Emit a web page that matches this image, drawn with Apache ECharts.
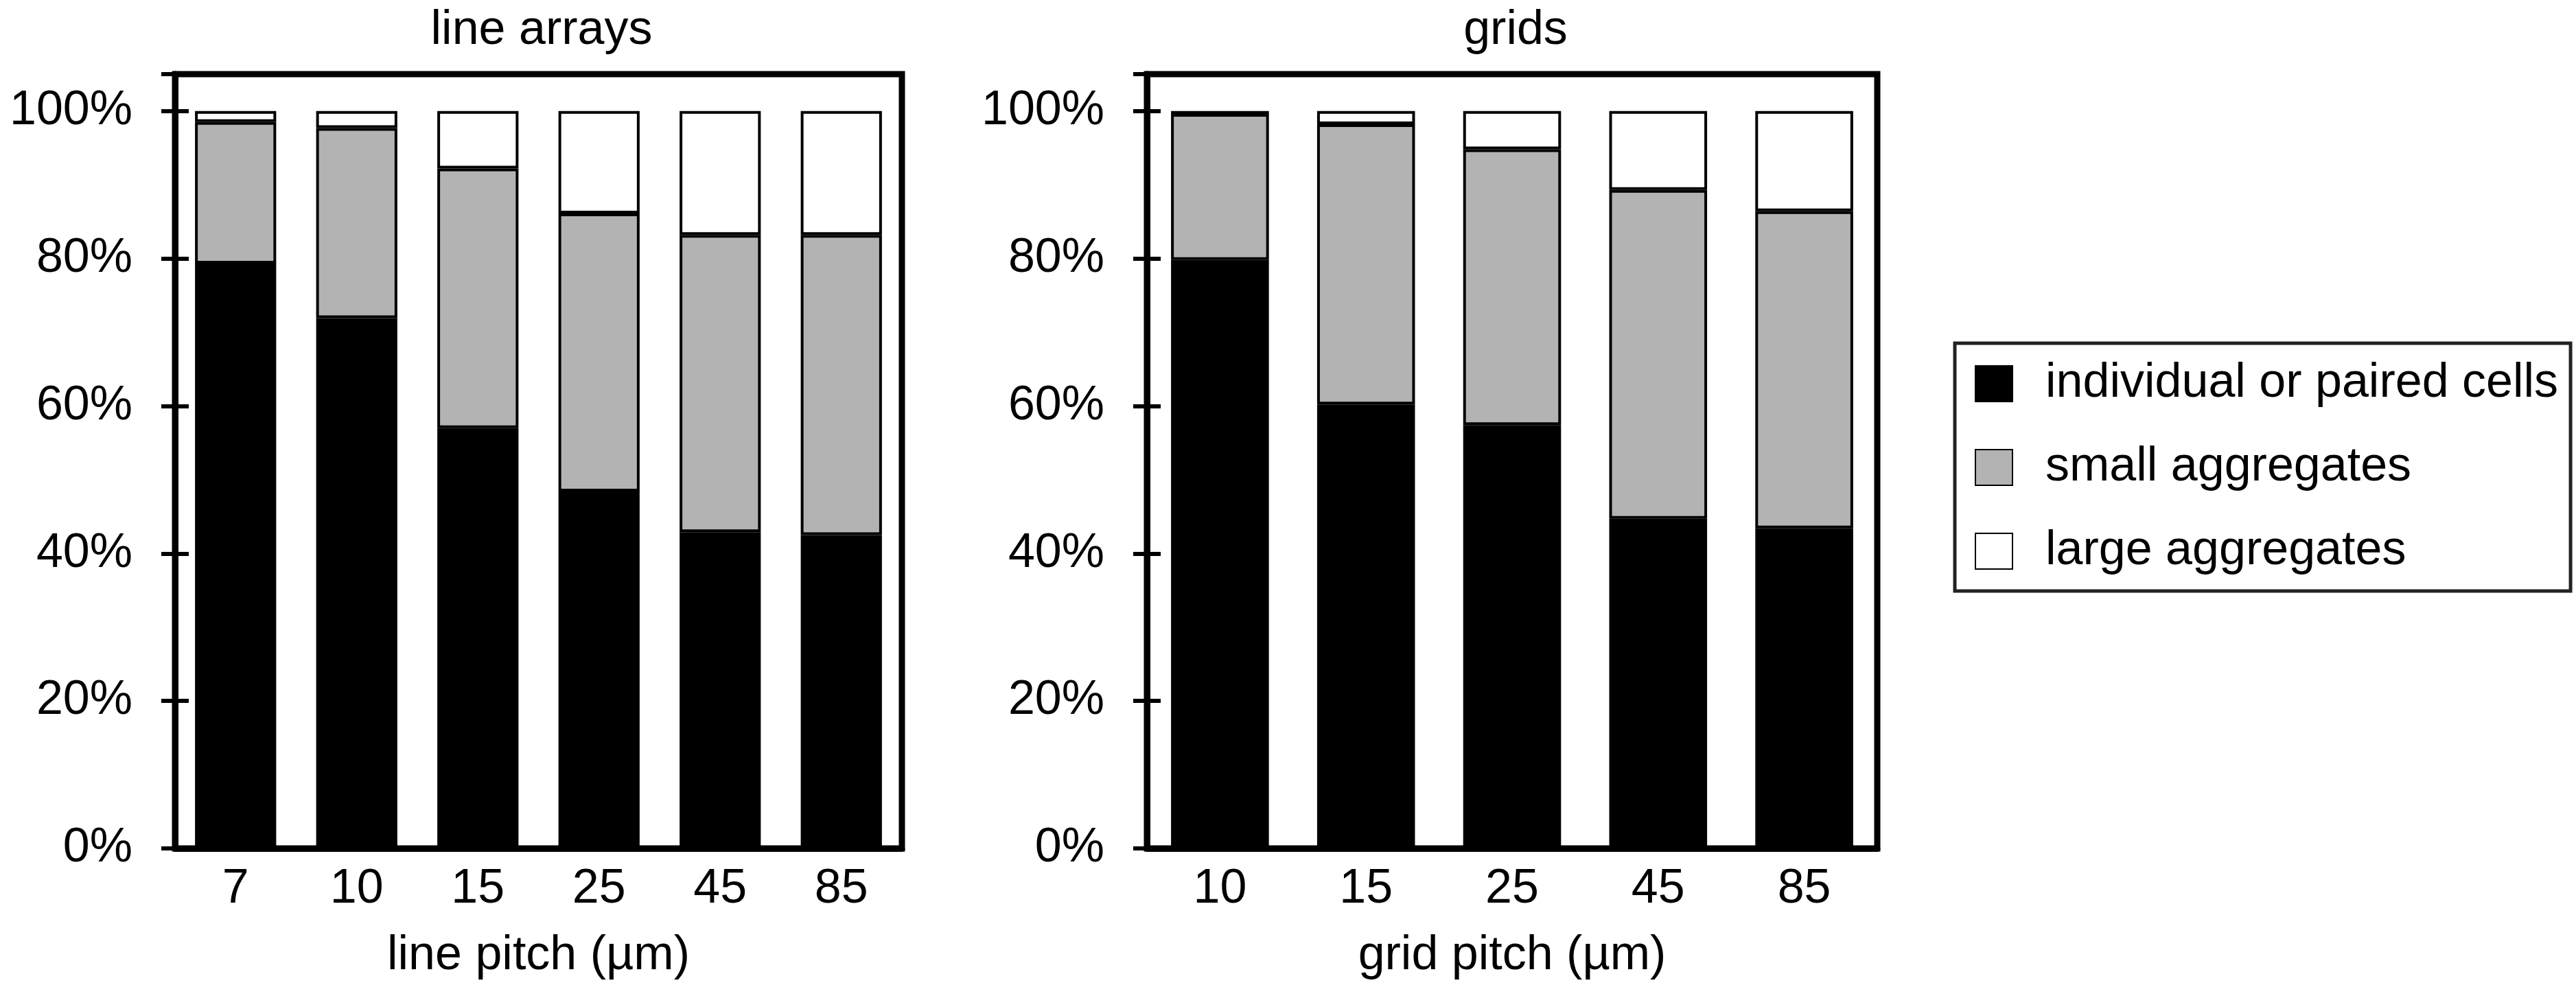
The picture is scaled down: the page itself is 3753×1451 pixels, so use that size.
<!DOCTYPE html>
<html>
<head>
<meta charset="utf-8">
<script src="https://cdn.jsdelivr.net/npm/echarts@6/dist/echarts.min.js"></script>
<style>
html,body{margin:0;padding:0;background:#fff;}
#chart{width:3753px;height:1451px;}
</style>
</head>
<body>
<div id="chart"></div>
<script>
// ---- data ----
var lineCategories = ['7', '10', '15', '25', '45', '85'];
var lineIndividual = [79.3, 71.9, 57.0, 48.4, 42.9, 42.5];
var lineSmall      = [19.2, 25.8, 35.2, 37.7, 40.3, 40.7];
var lineLarge      = [1.5, 2.3, 7.8, 13.9, 16.8, 16.8];

var gridCategories = ['10', '15', '25', '45', '85'];
var gridIndividual = [79.8, 60.2, 57.4, 44.7, 43.4];
var gridSmall      = [19.8, 38.0, 37.4, 44.6, 43.0];
var gridLarge      = [0.4, 1.8, 5.2, 10.7, 13.6];

var yTicks = [0, 20, 40, 60, 80, 100];
var seriesNames = ['individual or paired cells', 'small aggregates', 'large aggregates'];
var titles = ['line arrays', 'grids'];
var xNames = ['line pitch (\u00b5m)', 'grid pitch (\u00b5m)'];

// ---- chart ----
var FONT = '"Liberation Sans", Arial, sans-serif';
var FS = 70;
var colors = ['#000000', '#b3b3b3', '#ffffff'];
var chart = echarts.init(document.getElementById('chart'));

function yMain(gi) {
  return {
    type: 'value', gridIndex: gi, min: 0, max: 105, interval: 20, position: 'left',
    axisLine: {show: true, lineStyle: {color: '#000', width: 9}},
    axisTick: {show: true, length: 20, lineStyle: {color: '#000', width: 6}},
    axisLabel: {
      color: '#000', fontSize: FS, fontFamily: FONT, margin: 62,
      formatter: function (v) { return yTicks.indexOf(v) >= 0 ? v + '%' : ''; }
    },
    splitLine: {show: false}
  };
}
function yInner(gi) {
  return {
    type: 'value', gridIndex: gi, min: 0, max: 105, interval: 20, position: 'left',
    axisLine: {show: false},
    axisTick: {show: true, inside: true, length: 20, lineStyle: {color: '#000', width: 6}},
    axisLabel: {show: false},
    splitLine: {show: false}
  };
}
function xAxis(gi, cats, name) {
  return {
    type: 'category', gridIndex: gi, data: cats,
    name: name, nameLocation: 'middle', nameGap: 122,
    nameTextStyle: {color: '#000', fontSize: FS, fontFamily: FONT},
    axisLine: {show: true, lineStyle: {color: '#000', width: 9}},
    axisTick: {show: false},
    axisLabel: {color: '#000', fontSize: FS, fontFamily: FONT, margin: 25}
  };
}
function mkSeries(gi, stack, arrs) {
  return arrs.map(function (arr, k) {
    return {
      type: 'bar', name: seriesNames[k], stack: stack,
      xAxisIndex: gi, yAxisIndex: gi * 2,
      data: arr, barWidth: '67%',
      itemStyle: {color: colors[k], borderColor: '#000', borderWidth: 4},
      emphasis: {disabled: true}
    };
  });
}

var option = {
  animation: false,
  backgroundColor: '#fff',
  textStyle: {fontFamily: FONT},
  title: [
    {text: titles[0], left: 784, top: 5, textAlign: 'center',
     textStyle: {color: '#000', fontSize: FS, fontWeight: 'normal', fontFamily: FONT}},
    {text: titles[1], left: 2203, top: 5, textAlign: 'center',
     textStyle: {color: '#000', fontSize: FS, fontWeight: 'normal', fontFamily: FONT}}
  ],
  grid: [
    {left: 255, top: 108, width: 1059, bottom: 215, show: true, borderWidth: 9, borderColor: '#000', backgroundColor: 'transparent'},
    {left: 1671, top: 108, width: 1064, bottom: 215, show: true, borderWidth: 9, borderColor: '#000', backgroundColor: 'transparent'}
  ],
  xAxis: [xAxis(0, lineCategories, xNames[0]), xAxis(1, gridCategories, xNames[1])],
  yAxis: [yMain(0), yInner(0), yMain(1), yInner(1)],
  legend: {
    orient: 'vertical', left: 2848, top: 500,
    data: seriesNames,
    itemWidth: 54, itemHeight: 52, itemGap: 52,
    padding: [24, 18, 23, 29],
    borderColor: '#222', borderWidth: 5,
    icon: 'rect',
    textStyle: {color: '#000', fontSize: 70, fontFamily: FONT, padding: [0, 0, 0, 43]}
  },
  series: [].concat(
    mkSeries(0, 'L', [lineIndividual, lineSmall, lineLarge]),
    mkSeries(1, 'G', [gridIndividual, gridSmall, gridLarge])
  )
};
chart.setOption(option);
</script>
</body>
</html>
